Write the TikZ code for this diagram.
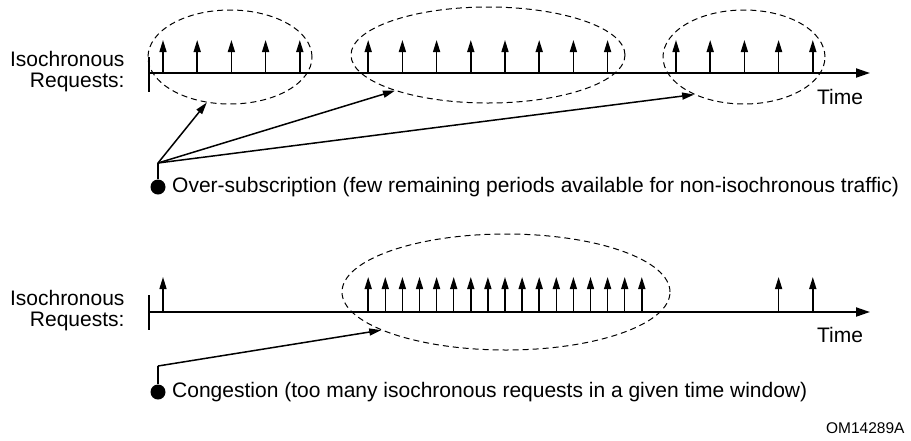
\documentclass[tikz,border=0pt]{standalone}
\usepackage{fontspec}
\setmainfont{Liberation Sans}
\usetikzlibrary{positioning, shapes.geometric, arrows.meta}

\begin{document}
\begin{tikzpicture}[x=1pt, y=-1pt, font=\fontsize{21}{21}\selectfont,
  axis/.style={line width=2pt, -{Triangle[length=14pt, width=9pt]}},
  req/.style={line width=1.5pt, -{Triangle[length=12pt, width=7pt]}},
  grp/.style={draw, ellipse, dashed, dash pattern=on 6pt off 4pt, line width=1pt, inner sep=0pt},
  ptr/.style={line width=1.5pt, -{Triangle[length=12pt, width=7pt]}},
  dot/.style={circle, fill, inner sep=0pt, minimum size=15pt},
  lbl/.style={align=right, anchor=east}
]
  \useasboundingbox (0,0) rectangle (911,440);

  % upper timeline
  \node[lbl] (iso1) at (128,72) {Isochronous\\Requests:};
  \draw[line width=1.5pt] (149,57) -- (149,92);
  \coordinate (t1s) at (149,73);
  \coordinate (t1e) at (870,73);
  \draw[axis] (t1s) -- (t1e);
  \foreach \k in {0,...,4,6,7,...,13,15,16,...,19}
    \draw[req] (163+34.2*\k,73) -- ++(0,-33);
  \node (time1) at (840,97) {Time};

  \node[grp, minimum width=164pt, minimum height=94pt] (e1) at (230,57) {};
  \node[grp, minimum width=274pt, minimum height=96pt] (e2) at (488,55) {};
  \node[grp, minimum width=162pt, minimum height=94pt] (e3) at (744,57) {};

  \node[dot] (over) at (158,187) {};
  \coordinate (src1) at (158,163);
  \draw[line width=1.5pt] (over) -- (src1);
  \draw[ptr] (src1) -- (e1.243);
  \draw[ptr] (src1) -- (e2.201);
  \draw[ptr] (src1) -- (e3.217);
  \node[right=3pt of over] (overtxt) {Over-subscription (few remaining periods available for non-isochronous traffic)};

  % lower timeline
  \node[lbl] (iso2) at (128,311) {Isochronous\\Requests:};
  \draw[line width=1.5pt] (149,295) -- (149,330);
  \coordinate (t2s) at (149,312);
  \coordinate (t2e) at (870,312);
  \draw[axis] (t2s) -- (t2e);
  \foreach \k in {0,6,6.5,...,14,18,19}
    \draw[req] (163+34.2*\k,312) -- ++(0,-35);
  \node (time2) at (840,335) {Time};

  \node[grp, minimum width=328pt, minimum height=116pt] (e4) at (506,292) {};

  \node[dot] (cong) at (158,392) {};
  \coordinate (src2) at (158,366);
  \draw[line width=1.5pt] (cong) -- (src2);
  \draw[ptr] (src2) -- (e4.197);
  \node[right=3pt of cong] (congtxt) {Congestion (too many isochronous requests in a given time window)};

  \node[anchor=east, font=\fontsize{15.5}{18}\selectfont] (fig) at (908,428) {OM14289A};
\end{tikzpicture}
\end{document}
